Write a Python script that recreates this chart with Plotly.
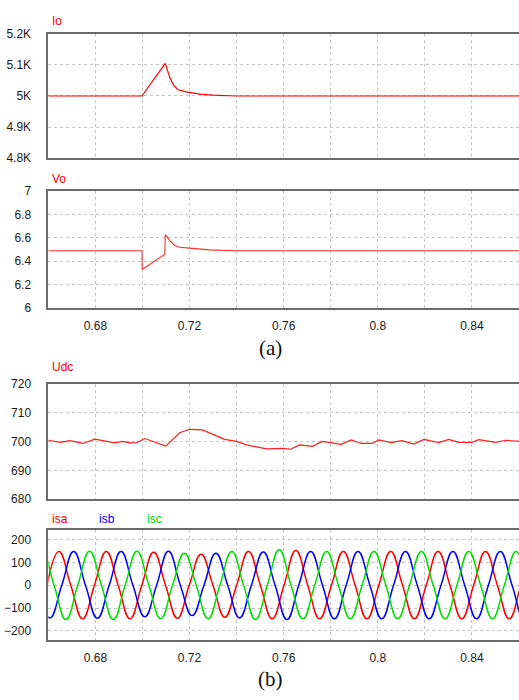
import plotly.graph_objects as go

# ---------------- data ----------------
x_ticks = [0.68, 0.70, 0.72, 0.74, 0.76, 0.78, 0.80, 0.82, 0.84]
x_ticktext = ["0.68", "", "0.72", "", "0.76", "", "0.8", "", "0.84"]

io_t = [0.66, 0.6998, 0.7097, 0.7116, 0.7133, 0.7151, 0.7186, 0.7243, 0.7298, 0.7398, 0.86]
io_v = [5000, 5000, 5105, 5060, 5034, 5020, 5013, 5006, 5003, 5000, 5000]
io_ticks = [4800, 4900, 5000, 5100, 5200]
io_ticktext = ["4.8K", "4.9K", "5K", "5.1K", "5.2K"]

vo_t = [0.66, 0.6998, 0.6999, 0.7095, 0.7097, 0.7116, 0.7137, 0.7158, 0.7200, 0.7285, 0.7400, 0.86]
vo_v = [6.49, 6.49, 6.33, 6.46, 6.627, 6.577, 6.535, 6.52, 6.512, 6.497, 6.49, 6.49]
vo_ticks = [6, 6.2, 6.4, 6.6, 6.8, 7]
vo_ticktext = ["6", "6.2", "6.4", "6.6", "6.8", "7"]

udc_t = [0.660, 0.665, 0.6692, 0.6747, 0.6798, 0.6861, 0.6883, 0.6917, 0.6946, 0.6976,
         0.7010, 0.7099, 0.7158, 0.7200, 0.7255, 0.7349, 0.7400, 0.7442, 0.7527, 0.7594,
         0.7630, 0.7667, 0.7722, 0.7764, 0.7844, 0.7887, 0.7929, 0.7976, 0.8005, 0.8056,
         0.8102, 0.8153, 0.8196, 0.8259, 0.8302, 0.8344, 0.8400, 0.8429, 0.8501, 0.8543,
         0.8600]
udc_v = [700.4, 699.7, 700.3, 699.3, 700.8, 699.9, 699.5, 700.0, 699.5, 699.6,
         701.0, 698.4, 703.0, 704.2, 704.0, 700.7, 700.0, 698.8, 697.4, 697.6,
         697.3, 698.8, 698.3, 700.0, 699.0, 700.5, 699.3, 699.3, 700.5, 699.6,
         700.3, 699.1, 700.7, 699.6, 700.7, 699.7, 699.7, 700.6, 699.7, 700.4,
         700.0]
udc_ticks = [680, 690, 700, 710, 720]

# three-phase currents: alternating extreme values (peak / trough), one every half period,
# with the time of the first extreme; zero crossings lie midway between extremes
half_period = 0.01007
isa_first = 0.6645
isa_ext = [147, -147, 147, -147, 144, -145, 135, -140, 147, -147, 152,
           -147, 147, -147, 147, -147, 147, -147, 147, -147, 147]
isb_first = 0.6607
isb_ext = [-143, 147, -145, 147, -138, 148, -133, 140, -143, 145, -150,
           147, -147, 147, -147, 147, -147, 147, -147, 147, -147]
isc_first = 0.6574
isc_ext = [147, -150, 149, -150, 149, -147, 140, -147, 147, -150, 155,
           -147, 147, -147, 147, -147, 147, -147, 147, -147, 147]
i_ticks = [-200, -100, 0, 100, 200]


def wave_points(first, ext):
    ts, vs = [first - half_period / 2], [0.0]
    for k, v in enumerate(ext):
        ts.append(first + k * half_period)
        vs.append(v)
        ts.append(first + k * half_period + half_period / 2)
        vs.append(0.0)
    return ts, vs


# ---------------- figure ----------------
W, H = 519, 700
RED, BLUE, GREEN = "#ff0000", "#0000ff", "#00e000"

fig = go.Figure()

fig.add_trace(go.Scatter(x=io_t, y=io_v, mode="lines", line=dict(color=RED, width=1.2),
                         xaxis="x", yaxis="y", showlegend=False))
fig.add_trace(go.Scatter(x=vo_t, y=vo_v, mode="lines", line=dict(color="#ff3030", width=1.1),
                         xaxis="x2", yaxis="y2", showlegend=False))
fig.add_trace(go.Scatter(x=udc_t, y=udc_v, mode="lines", line=dict(color="#ff2020", width=1.2),
                         xaxis="x3", yaxis="y3", showlegend=False))
for first, ext, col in [(isa_first, isa_ext, RED), (isb_first, isb_ext, BLUE), (isc_first, isc_ext, GREEN)]:
    ts, vs = wave_points(first, ext)
    fig.add_trace(go.Scatter(x=ts, y=vs, mode="lines", line=dict(color=col, width=1.5, shape="spline", smoothing=1.3),
                             xaxis="x4", yaxis="y4", showlegend=False))


def ypx(p):
    return 1 - p / H


domains = [(27.3, 154.3), (187.7, 307.3), (384.3, 502.3), (534.0, 646.0)]
x_dom = [48.3 / W, 1.0]
tickfont = dict(family="Liberation Sans, Arial", size=12, color="#1a1a1a")
grid = dict(showgrid=True, gridcolor="#c4c4c4", griddash="dot", gridwidth=1)

yaxes = [
    dict(range=[4800, 5200], tickvals=io_ticks, ticktext=io_ticktext),
    dict(range=[6, 7], tickvals=vo_ticks, ticktext=vo_ticktext),
    dict(range=[680, 720], tickvals=udc_ticks),
    dict(range=[-240, 240], tickvals=i_ticks),
]

layout = dict(width=W, height=H, margin=dict(l=0, r=0, t=0, b=0),
              paper_bgcolor="white", plot_bgcolor="white", showlegend=False)

for i in range(4):
    sx = "" if i == 0 else str(i + 1)
    top, bot = domains[i]
    show_labels = i in (1, 3)
    layout["xaxis" + sx] = dict(
        domain=x_dom, anchor="y" + sx, range=[0.66, 0.86],
        tickvals=x_ticks, ticktext=x_ticktext if show_labels else [""] * len(x_ticks),
        showticklabels=show_labels, ticks="", tickfont=tickfont, ticklabelstandoff=6,
        showline=True, linecolor="#6a6a6a", linewidth=1.6, mirror=True, zeroline=False, **grid)
    ya = dict(domain=[ypx(bot), ypx(top)], anchor="x" + sx, ticks="", tickfont=tickfont,
              ticklabelstandoff=13, showline=True, linecolor="#6a6a6a", linewidth=1.6,
              mirror=False, zeroline=False, **grid)
    ya.update(yaxes[i])
    layout["yaxis" + sx] = ya

fig.update_layout(**layout)

label_font = dict(family="Liberation Sans, Arial", size=12)
titles = [("Io", 50, 14.5, RED), ("Vo", 50, 175.5, RED), ("Udc", 50, 367.5, RED),
          ("isa", 50, 522.5, RED), ("isb", 97, 522.5, BLUE), ("isc", 145, 522.5, GREEN)]
for txt, xp, yp, col in titles:
    fig.add_annotation(text=txt, xref="paper", yref="paper", x=xp / W, y=ypx(yp),
                       xanchor="left", yanchor="middle", showarrow=False,
                       font=dict(color=col, **label_font))

for txt, yp in [("(a)", 348), ("(b)", 686)]:
    fig.add_annotation(text=txt, xref="paper", yref="paper", x=270 / W, y=ypx(yp),
                       xanchor="center", yanchor="middle", showarrow=False,
                       font=dict(family="Liberation Serif, Times New Roman", size=21, color="#111111"))

fig.write_html("out.html")
